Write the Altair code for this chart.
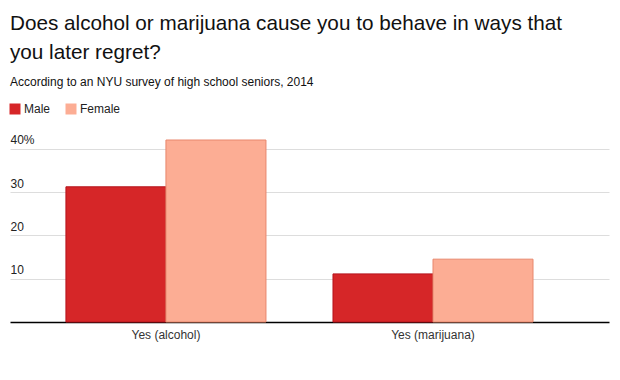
import altair as alt
import pandas as pd

categories = ["Yes (alcohol)", "Yes (marijuana)"]
groups = ["Male", "Female"]
male_values = [31.2, 11.1]
female_values = [42.0, 14.5]
y_ticks = [10, 20, 30, 40]
fill_colors = ["#d62628", "#fcad94"]
stroke_colors = ["#b5141c", "#e8876c"]

rows = []
for i, c in enumerate(categories):
    rows.append({"category": c, "group": groups[0], "value": male_values[i]})
    rows.append({"category": c, "group": groups[1], "value": female_values[i]})
df = pd.DataFrame(rows)

FONT = "Liberation Sans"

chart = alt.Chart(df).mark_bar(strokeWidth=1).encode(
    x=alt.X(
        "category:N", sort=categories,
        scale=alt.Scale(paddingInner=0.251, paddingOuter=0.247, align=0.424),
        axis=alt.Axis(title=None, labelAngle=0, labelFontSize=12, labelColor="#333",
                      labelPadding=7, ticks=False, domainColor="#000", domainWidth=1.5,
                      grid=False, labelFont=FONT),
    ),
    xOffset=alt.XOffset("group:N", sort=groups),
    y=alt.Y(
        "value:Q",
        scale=alt.Scale(domain=[0, 45], nice=False),
        axis=alt.Axis(title=None, values=y_ticks,
                      labelExpr="datum.value == 40 ? '40%' : datum.label",
                      labelAlign="left", labelBaseline="alphabetic", labelOffset=-5,
                      labelPadding=0, ticks=False, tickSize=0, domain=False,
                      gridColor="#dddddd", labelFontSize=12, labelColor="#222",
                      labelFont=FONT),
    ),
    color=alt.Color(
        "group:N", sort=groups,
        scale=alt.Scale(domain=groups, range=fill_colors),
        legend=alt.Legend(title=None, orient="none", legendX=-1, legendY=-24,
                          direction="horizontal", symbolType="square", symbolSize=121,
                          symbolStrokeWidth=0, labelFontSize=12, labelFont=FONT,
                          labelColor="#222", columnPadding=14, labelOffset=3),
    ),
    stroke=alt.Stroke("group:N", sort=groups,
                      scale=alt.Scale(domain=groups, range=stroke_colors), legend=None),
).properties(
    width=599,
    height=195,
    title=alt.Title(
        text=["Does alcohol or marijuana cause you to behave in ways that",
              "you later regret?"],
        subtitle="According to an NYU survey of high school seniors, 2014",
        anchor="start", frame="group", fontSize=20.7, font=FONT, fontWeight="normal",
        color="#111", lineHeight=29, subtitleFontSize=12, subtitleFont=FONT,
        subtitleColor="#111", subtitlePadding=13, offset=14,
    ),
    autosize=alt.AutoSizeParams(type="none"),
    padding={"left": 2, "top": 119, "right": 3, "bottom": 30},
).configure_view(stroke=None)

chart.save("out.html", embed_options={"renderer": "svg", "actions": False})
